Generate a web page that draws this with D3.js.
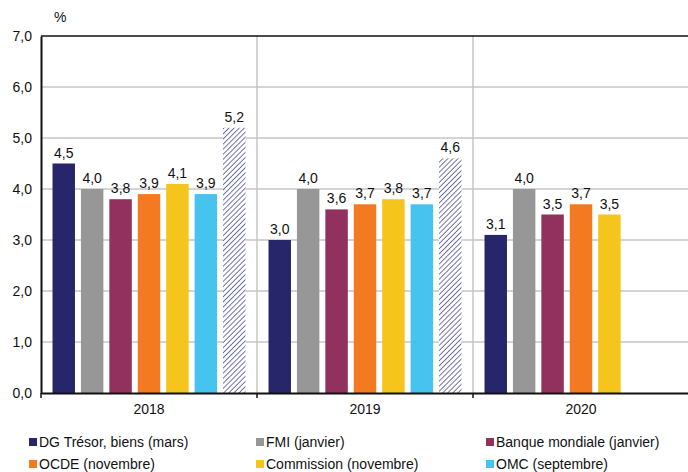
<!DOCTYPE html>
<html>
<head>
<meta charset="utf-8">
<script src="https://cdn.jsdelivr.net/npm/d3@7"></script>
<style>
  html, body { margin: 0; padding: 0; background: #fff; }
  svg { display: block; font-family: "Liberation Sans", Arial, sans-serif; }
</style>
</head>
<body>
<svg id="chart" width="688" height="472"></svg>
<script>
// Growth forecasts for world trade, by source and year (%)
const years = ["2018", "2019", "2020"];
const series = [
  "DG Trésor, biens (mars)",
  "FMI (janvier)",
  "Banque mondiale (janvier)",
  "OCDE (novembre)",
  "Commission (novembre)",
  "OMC (septembre)",
  "DG Trésor, services (mars)"
];
const colors = ["#27266b", "#979797", "#92315d", "#f37a21", "#f6c51c", "#46c3ef", "hatch"];
const values2018 = [4.5, 4.0, 3.8, 3.9, 4.1, 3.9, 5.2];
const values2019 = [3.0, 4.0, 3.6, 3.7, 3.8, 3.7, 4.6];
const values2020 = [3.1, 4.0, 3.5, 3.7, 3.5];
const yTicks = [0, 1, 2, 3, 4, 5, 6, 7];
const legendSeries = series.slice(0, 6);

const valuesByYear = [values2018, values2019, values2020];
const rows = [];
years.forEach((yr, i) => {
  valuesByYear[i].forEach((v, j) => rows.push({ year: yr, series: series[j], color: colors[j], value: v }));
});

const svg = d3.select("#chart");
const margin = { left: 41, right: -1, top: 36, bottom: 79 };
const W = 688, H = 472;
const FS = 14;
const x0 = d3.scaleBand().domain(years).range([margin.left, W - margin.right]).padding(0);
const x1 = d3.scaleBand().domain(series).range([0, x0.bandwidth()]).paddingInner(0.21).paddingOuter(0.405);
const y = d3.scaleLinear().domain([0, 7]).range([H - margin.bottom, margin.top]);
const fmt = v => d3.format(".1f")(v).replace(".", ",");

// diagonal hatch fill
const defs = svg.append("defs");
const pat = defs.append("pattern")
  .attr("id", "hatch").attr("patternUnits", "userSpaceOnUse")
  .attr("width", 3.6).attr("height", 3.6)
  .attr("patternTransform", "rotate(45)");
pat.append("rect").attr("width", 3.6).attr("height", 3.6).attr("fill", "#fff");
pat.append("line").attr("x1", 0).attr("y1", 0).attr("x2", 0).attr("y2", 3.6)
  .attr("stroke", "#45458f").attr("stroke-width", 1.5);

// horizontal gridlines
svg.append("g").selectAll("line").data(yTicks.filter(t => t > 0 && t < 7)).join("line")
  .attr("x1", margin.left).attr("x2", W)
  .attr("y1", d => y(d)).attr("y2", d => y(d))
  .attr("stroke", "#c6c6c6").attr("stroke-width", 1.5);

// vertical separators between years
svg.append("g").selectAll("line").data(years.slice(1)).join("line")
  .attr("x1", d => x0(d)).attr("x2", d => x0(d))
  .attr("y1", y(7)).attr("y2", y(0))
  .attr("stroke", "#c6c6c6").attr("stroke-width", 1.5);

// top line
svg.append("line").attr("x1", margin.left).attr("x2", W)
  .attr("y1", y(7)).attr("y2", y(7)).attr("stroke", "#111").attr("stroke-width", 1.6);

// bars
svg.append("g").selectAll("rect").data(rows).join("rect")
  .attr("x", d => x0(d.year) + x1(d.series))
  .attr("width", x1.bandwidth())
  .attr("y", d => y(d.value))
  .attr("height", d => y(0) - y(d.value))
  .attr("fill", d => d.color === "hatch" ? "url(#hatch)" : d.color);

// value labels
svg.append("g").selectAll("text").data(rows).join("text")
  .attr("x", d => x0(d.year) + x1(d.series) + x1.bandwidth() / 2)
  .attr("y", d => y(d.value) - 6)
  .attr("text-anchor", "middle")
  .attr("font-size", FS).attr("fill", "#111")
  .text(d => fmt(d.value));

// y axis
const yAxis = svg.append("g").attr("transform", `translate(${margin.left},0)`)
  .call(d3.axisLeft(y).tickValues(yTicks).tickSize(0).tickPadding(9).tickFormat(fmt));
yAxis.select(".domain").attr("stroke", "#111").attr("stroke-width", 2);
yAxis.selectAll("text").attr("font-size", FS).attr("fill", "#111")
  .attr("font-family", "Liberation Sans, Arial, sans-serif");

// x axis
const xAxis = svg.append("g").attr("transform", `translate(0,${y(0)})`)
  .call(d3.axisBottom(x0).tickSize(0).tickPadding(11));
xAxis.select(".domain").attr("stroke", "#111").attr("stroke-width", 2);
xAxis.selectAll("text").attr("font-size", FS).attr("fill", "#111")
  .attr("font-family", "Liberation Sans, Arial, sans-serif");
svg.append("g").selectAll("line").data(years).join("line")
  .attr("x1", d => x0(d)).attr("x2", d => x0(d))
  .attr("y1", y(0)).attr("y2", y(0) + 5)
  .attr("stroke", "#111").attr("stroke-width", 1.5);

// unit
svg.append("text").attr("x", 54).attr("y", 22).attr("font-size", FS).attr("fill", "#111").text("%");

// legend
const legCols = [29, 256, 486];
const legRows = [442, 464];
const leg = svg.append("g").selectAll("g").data(legendSeries).join("g")
  .attr("transform", (d, i) => `translate(${legCols[i % 3]},${legRows[Math.floor(i / 3)]})`);
leg.append("rect").attr("x", 0).attr("y", -4).attr("width", 8).attr("height", 8)
  .attr("fill", (d, i) => colors[i]);
leg.append("text").attr("x", 10).attr("y", 5).attr("font-size", FS).attr("fill", "#111").text(d => d);
</script>
</body>
</html>
